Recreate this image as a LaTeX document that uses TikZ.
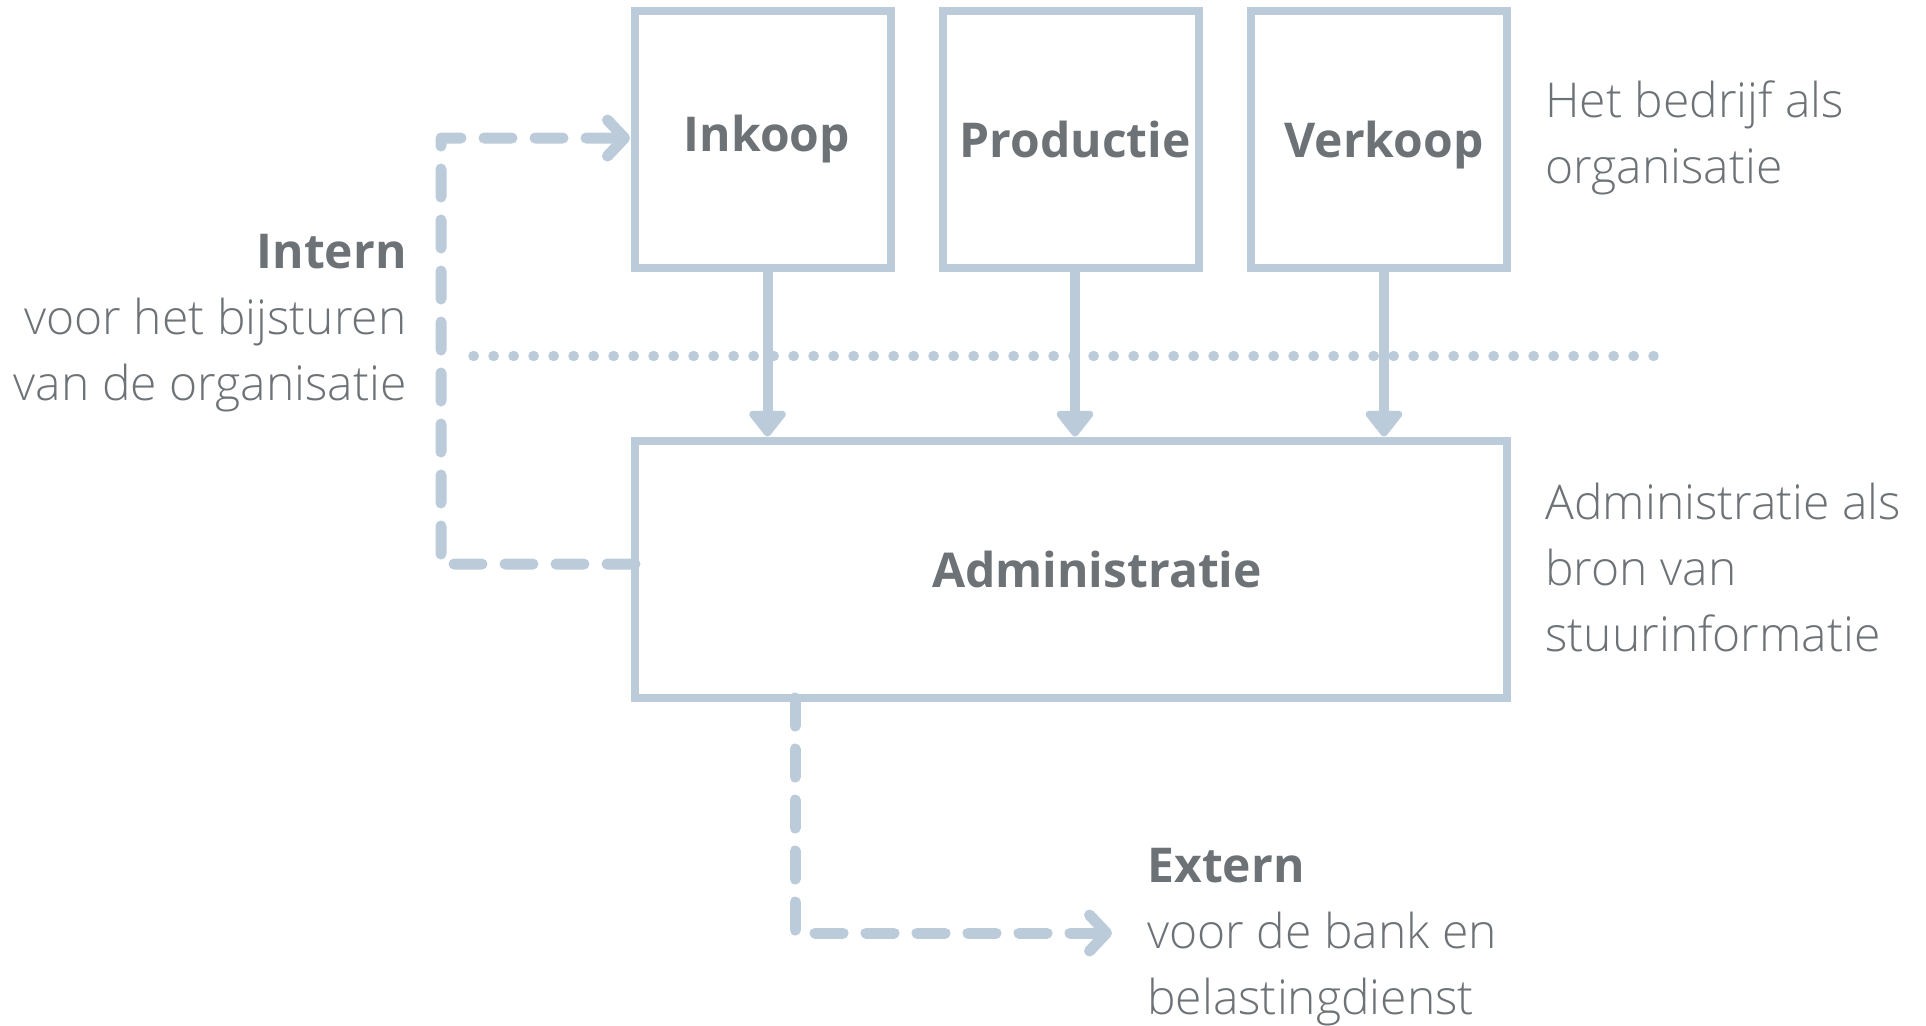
\documentclass[tikz,border=0pt]{standalone}
\usepackage{fontspec}
\setmainfont{Open Sans}
\newfontfamily\lightfont{Open Sans Light}
\usetikzlibrary{arrows.meta}
\definecolor{lineblue}{HTML}{BBCBDA}
\definecolor{txtgray}{HTML}{6D7277}
\begin{document}
\begin{tikzpicture}[x=0.5pt,y=-0.5pt,
  box/.style={draw=lineblue, line width=4pt, minimum width=128pt, minimum height=128.75pt,
    inner sep=0pt, outer sep=0pt, text=txtgray, font=\fontsize{24}{29}\selectfont\bfseries},
  flow/.style={draw=lineblue, line width=5pt, -{Triangle[width=21pt,length=14pt,round]}, shorten >=2pt},
  dashline/.style={draw=lineblue, line width=5.5pt, line cap=round, line join=round,
    dash pattern=on 14pt off 11.5pt},
  chev/.style={-{Straight Barb[length=8.5pt,width=18pt,line cap=round,line join=round]}, shorten >=2.5pt},
  divider/.style={draw=lineblue, line width=4.75pt, line cap=round, dash pattern=on 0.6pt off 9.4pt},
  note/.style={text=txtgray, inner sep=0pt, font=\lightfont\fontsize{24}{33}\selectfont}
]
\useasboundingbox (0,0) rectangle (1926,1025);
% dotted divider
\coordinate (dotL) at (473,356);
\coordinate (dotR) at (1654,356);
\draw[divider] (dotL) -- (dotR);
% boxes
\node[box] (ink)  at (763,139.25)  {\hspace*{4pt}Inkoop};
\node[box] (prod) at (1071,139.25) {\hspace*{4pt}Productie};
\node[box, text depth=0pt] (verk) at (1379,139.25) {\hspace*{5pt}Verkoop};
\node[box, minimum width=436pt] (adm) at (1071,569.25) {\hspace*{26pt}Administratie};
% solid arrows
\draw[flow] ([xshift=2.25pt]ink.south) -- ([xshift=2.25pt]ink.south |- adm.north);
\draw[flow] ([xshift=2pt]prod.south) -- ([xshift=2pt]prod.south |- adm.north);
\draw[flow] ([xshift=2.5pt]verk.south) -- ([xshift=2.5pt]verk.south |- adm.north);
% dashed connectors
\coordinate (c1) at (441,564);
\coordinate (c2) at (441,138);
\draw[dashline, chev] ([yshift=2.6pt]adm.west) -- (c1) -- (c2) -- ([yshift=0.6pt]ink.west);
\coordinate (c3) at (795,933);
\coordinate (c4) at (1117,933);
\draw[dashline, chev] (adm.south -| c3) -- (c3) -- (c4);
% texts
\node[note, anchor=base east] (intern) at (407,268)
  {\begin{tabular}[t]{@{}r@{}}{\normalfont\bfseries Intern}\\ voor het bijsturen\\ van de organisatie\end{tabular}};
\node[note, anchor=base west] (bedrijf) at (1545,117)
  {\begin{tabular}[t]{@{}l@{}}Het bedrijf als\\ organisatie\end{tabular}};
\node[note, anchor=base west] (bron) at (1545,519)
  {\begin{tabular}[t]{@{}l@{}}Administratie als\\ bron van\\ stuurinformatie\end{tabular}};
\node[note, anchor=base west] (extern) at (1147,882)
  {\begin{tabular}[t]{@{}l@{}}{\normalfont\bfseries Extern}\\ voor de bank en\\ belastingdienst\end{tabular}};
\end{tikzpicture}
\end{document}
